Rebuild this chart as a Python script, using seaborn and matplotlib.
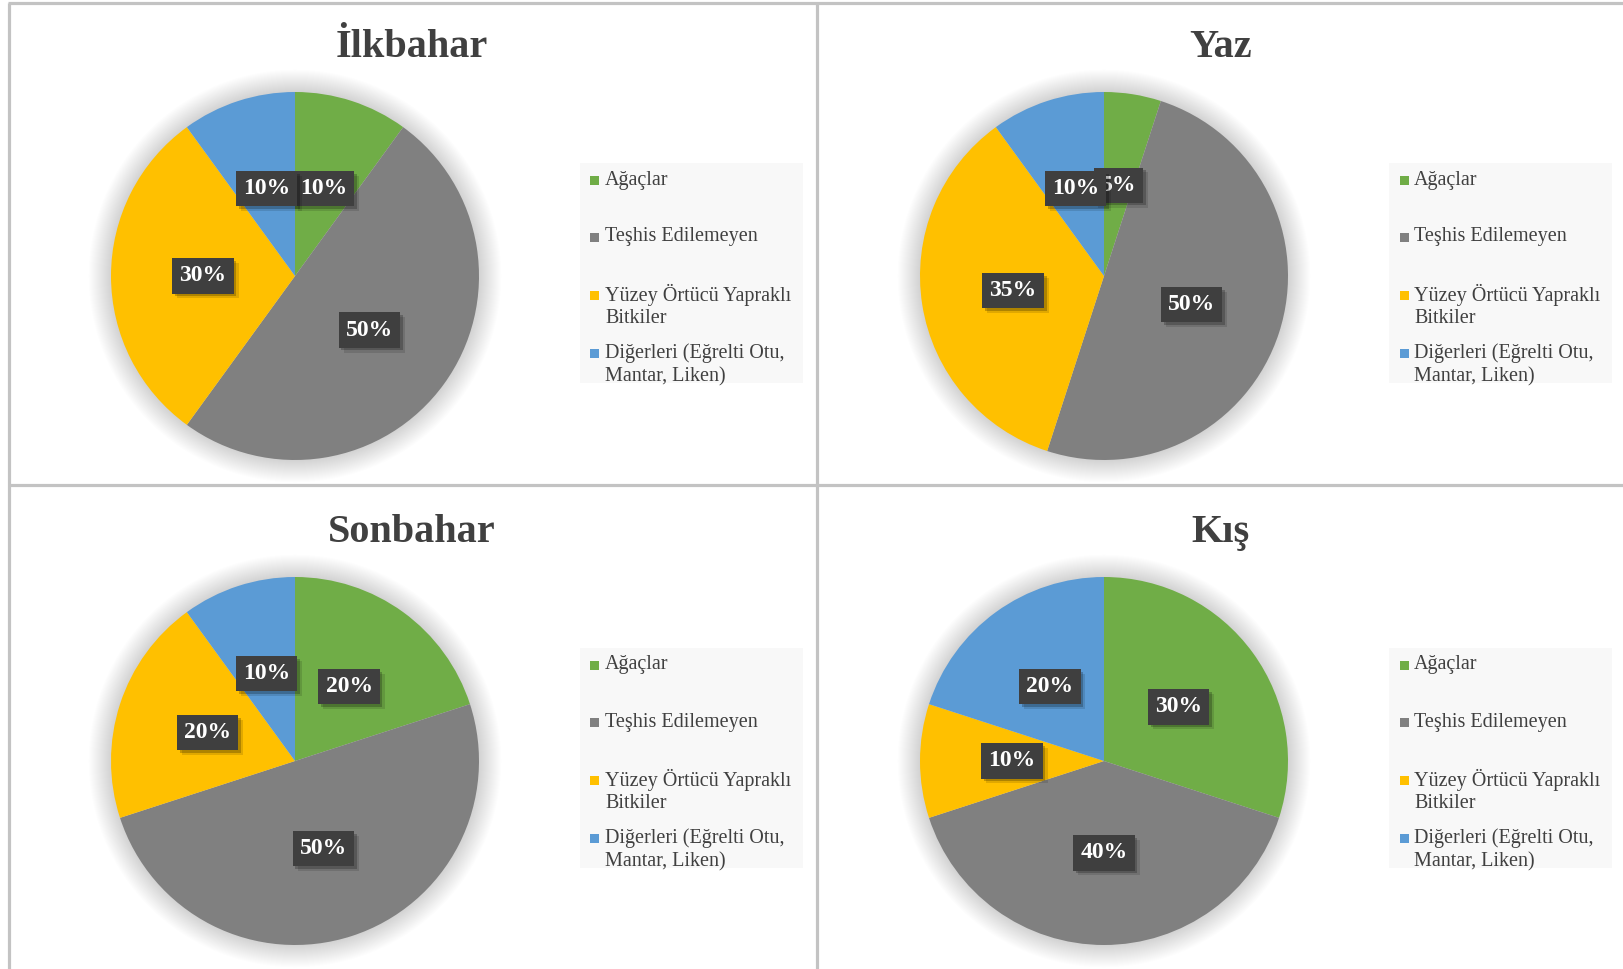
import matplotlib
matplotlib.use("Agg")
import matplotlib.pyplot as plt
import matplotlib.patheffects as pe
from matplotlib.patches import Circle, Rectangle
from matplotlib.lines import Line2D
import seaborn as sns

# ---- data ----
seasons = ["İlkbahar", "Yaz", "Sonbahar", "Kış"]
categories = ["Ağaçlar", "Teşhis Edilemeyen",
              "Yüzey Örtücü Yapraklı Bitkiler",
              "Diğerleri (Eğrelti Otu, Mantar, Liken)"]
legend_labels = ["Ağaçlar", "Teşhis Edilemeyen",
                 "Yüzey Örtücü Yapraklı\nBitkiler",
                 "Diğerleri (Eğrelti Otu,\nMantar, Liken)"]
ilkbahar = [10, 50, 30, 10]
yaz = [5, 50, 35, 10]
sonbahar = [20, 50, 20, 10]
kis = [30, 40, 10, 20]
season_values = [ilkbahar, yaz, sonbahar, kis]

palette = sns.color_palette(["#70AD47", "#808080", "#FFC000", "#5B9BD5"])

sns.set_theme(style="white")
plt.rcParams["font.family"] = ["Liberation Serif", "DejaVu Serif"]

W, H = 1624, 969
fig = plt.figure(figsize=(W / 100, H / 100), dpi=100)
fig.patch.set_facecolor("white")


def fx(x):
    return x / W


def fy(y):
    return 1 - y / H


# table-like cell borders
border = "#c3c3c3"
for (x0, y0, x1, y1) in [(9, 3, 9, H), (8, 3, W, 3), (817, 3, 817, H), (9, 484.5, W, 484.5)]:
    fig.add_artist(Line2D([fx(x0), fx(x1)], [fy(y0), fy(y1)], transform=fig.transFigure,
                          color=border, lw=2.3, solid_capstyle="butt"))

R = 184
centers = [(295, 276), (1104, 276), (295, 761), (1104, 761)]
LIM = 1.2
text_col = "#404040"

for name, vals, (cx, cy) in zip(seasons, season_values, centers):
    side = 2 * LIM * R
    ax = fig.add_axes([fx(cx - side / 2), fy(cy + side / 2), side / W, side / H])

    # soft glow around the pie
    for k in range(22):
        ax.add_patch(Circle((0, 0), 1.0 + 0.0055 * (k + 1), color="black",
                            alpha=0.0065, lw=0, zorder=0))

    wedges, texts, autotexts = ax.pie(
        vals, colors=palette, startangle=90, counterclock=False, radius=1,
        autopct=lambda p: f"{p:.0f}%", pctdistance=0.5,
        wedgeprops=dict(linewidth=0))
    ax.set_xlim(-LIM, LIM)
    ax.set_ylim(-LIM, LIM)
    ax.set_aspect("equal")
    ax.axis("off")

    for t in autotexts:
        t.set_color("white")
        t.set_fontsize(17)
        t.set_fontweight("bold")
        t.set_bbox(dict(boxstyle="square,pad=0.3", fc="#3f3f3f", ec="none", lw=0))
        t.get_bbox_patch().set_path_effects([
            pe.SimplePatchShadow(offset=(3.5, -3.5), shadow_rgbFace="black", alpha=0.12),
            pe.SimplePatchShadow(offset=(2, -2), shadow_rgbFace="black", alpha=0.22),
            pe.Normal()])

    # title
    fig.text(fx(cx + 117), fy(cy - 219), name, ha="center", va="baseline",
             fontsize=29, fontweight="bold", color=text_col)

    # legend panel
    fig.add_artist(Rectangle((fx(cx + 285), fy(cy + 107)), 223 / W, 220 / H,
                             transform=fig.transFigure, fc="#f8f8f8", ec="none"))
    first_lines = [-96, -39, 19, 77]
    for lab, col, dy in zip(legend_labels, palette, first_lines):
        fig.add_artist(Rectangle((fx(cx + 295.5), fy(cy + dy + 4.5)), 9 / W, 9 / H,
                                 transform=fig.transFigure, fc=col, ec="none"))
        for i, line in enumerate(lab.split("\n")):
            fig.text(fx(cx + 310), fy(cy + dy + 23.5 * i), line, ha="left", va="center",
                     fontsize=14.5, color=text_col)

fig.savefig("out.png", dpi=100)
